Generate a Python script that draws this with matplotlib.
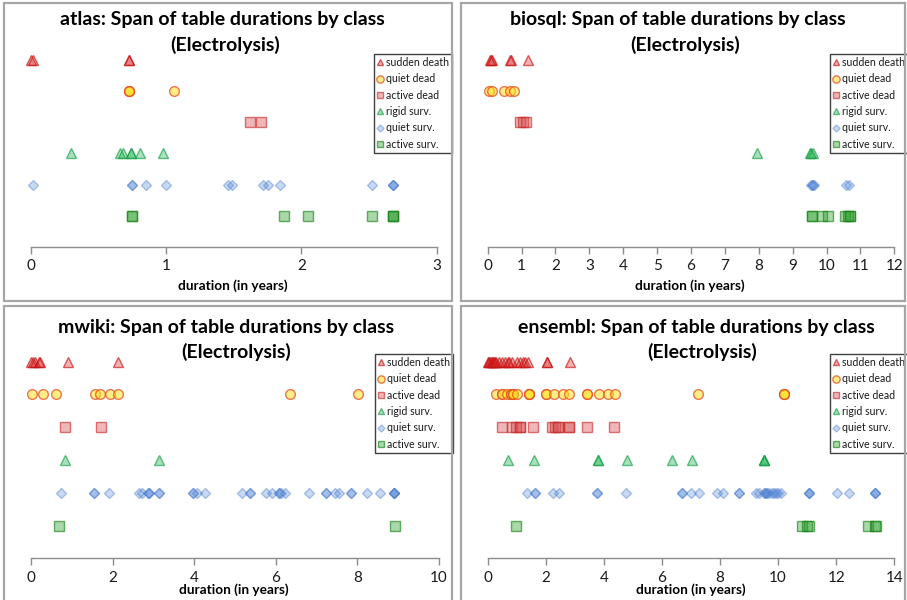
import matplotlib
matplotlib.use("Agg")
import matplotlib.pyplot as plt
from matplotlib.patches import Rectangle
from matplotlib.lines import Line2D

plt.rcParams['font.family'] = ['Lato', 'DejaVu Sans']

# ---------------- data (durations in years) ----------------
class_names = ["sudden death", "quiet dead", "active dead", "rigid surv.", "quiet surv.", "active surv."]

atlas_sudden_death = [0.0, 0.02, 0.73, 0.73]
atlas_quiet_dead = [0.73, 0.73, 0.73, 1.06]
atlas_active_dead = [1.62, 1.70]
atlas_rigid_surv = [0.30, 0.66, 0.685, 0.74, 0.74, 0.81, 0.975]
atlas_quiet_surv = [0.02, 0.75, 0.75, 0.85, 1.0, 1.46, 1.49, 1.72, 1.75, 1.84, 2.52, 2.68, 2.68, 2.68]
atlas_active_surv = [0.75, 0.75, 1.87, 2.05, 2.52, 2.68, 2.68, 2.68]

biosql_sudden_death = [0.08, 0.10, 0.12, 0.65, 0.69, 1.18]
biosql_quiet_dead = [0.04, 0.12, 0.49, 0.67, 0.77]
biosql_active_dead = [0.96, 1.04, 1.12]
biosql_rigid_surv = [7.95, 9.50, 9.55, 9.60]
biosql_quiet_surv = [9.53, 9.57, 9.60, 9.63, 10.58, 10.65]
biosql_active_surv = [9.58, 9.58, 9.86, 10.03, 10.55, 10.62, 10.68, 10.70]

mwiki_sudden_death = [0.0, 0.03, 0.08, 0.18, 0.22, 0.89, 2.14]
mwiki_quiet_dead = [0.02, 0.28, 0.61, 1.56, 1.69, 1.93, 2.13, 6.35, 8.03]
mwiki_active_dead = [0.82, 1.70]
mwiki_rigid_surv = [0.83, 3.13]
mwiki_quiet_surv = [0.72, 1.53, 1.53, 1.91, 2.65, 2.72, 2.86, 2.89, 2.89, 3.13, 3.13, 3.98, 3.98,
                    4.06, 4.26, 5.17, 5.38, 5.38, 5.75, 5.91, 6.08, 6.08, 6.13, 6.22, 6.82, 7.23,
                    7.23, 7.45, 7.55, 7.84, 7.84, 8.24, 8.56, 8.90, 8.90, 8.90, 8.90]
mwiki_active_surv = [0.69, 8.92]

ensembl_sudden_death = [0.0, 0.03, 0.06, 0.10, 0.14, 0.18, 0.22, 0.26, 0.30, 0.40, 0.50, 0.60,
                        0.70, 0.75, 0.85, 1.00, 1.10, 1.20, 1.30, 1.40, 2.05, 2.05, 2.85]
ensembl_quiet_dead = [0.27, 0.48, 0.48, 0.65, 0.80, 0.80, 0.88, 0.88, 1.00, 1.42, 1.42, 1.42,
                      2.02, 2.02, 2.29, 2.58, 2.81, 3.41, 3.41, 3.83, 4.15, 4.38, 7.23,
                      10.19, 10.19, 10.19]
ensembl_active_dead = [0.48, 0.83, 0.97, 1.11, 1.11, 1.55, 2.20, 2.32, 2.43, 2.43, 2.81, 2.81,
                       3.41, 4.36]
ensembl_rigid_surv = [0.69, 1.61, 3.79, 3.79, 4.79, 6.36, 7.02, 9.50, 9.50, 9.52]
ensembl_quiet_surv = [1.34, 1.63, 1.63, 2.24, 2.47, 3.77, 3.77, 4.76, 6.68, 6.68, 7.00, 7.27,
                      7.88, 8.09, 8.66, 8.66, 9.24, 9.35, 9.50, 9.55, 9.58, 9.62, 9.70, 9.78,
                      9.85, 9.92, 10.00, 10.10, 11.05, 11.05, 11.05, 12.03, 12.44, 13.33,
                      13.33, 13.35]
ensembl_active_surv = [0.96, 10.81, 11.00, 11.05, 13.10, 13.33, 13.36]

datasets = ["atlas", "biosql", "mwiki", "ensembl"]
series = {
    "atlas": [atlas_sudden_death, atlas_quiet_dead, atlas_active_dead,
              atlas_rigid_surv, atlas_quiet_surv, atlas_active_surv],
    "biosql": [biosql_sudden_death, biosql_quiet_dead, biosql_active_dead,
               biosql_rigid_surv, biosql_quiet_surv, biosql_active_surv],
    "mwiki": [mwiki_sudden_death, mwiki_quiet_dead, mwiki_active_dead,
              mwiki_rigid_surv, mwiki_quiet_surv, mwiki_active_surv],
    "ensembl": [ensembl_sudden_death, ensembl_quiet_dead, ensembl_active_dead,
                ensembl_rigid_surv, ensembl_quiet_surv, ensembl_active_surv],
}
xmax = {"atlas": 3, "biosql": 12, "mwiki": 10, "ensembl": 14}
xstep = {"atlas": 1, "biosql": 1, "mwiki": 2, "ensembl": 2}
row_level = [6, 5, 4, 3, 2, 1]

# ---------------- styles ----------------
styles = [
    dict(marker="^", ms=6.5, mfc=(0.85, 0.15, 0.15, 0.35), mec=(0.78, 0.08, 0.08, 0.65)),
    dict(marker="o", ms=7.0, mfc=(1.0, 0.88, 0.15, 0.55), mec=(0.90, 0.30, 0.12, 0.75)),
    dict(marker="s", ms=6.5, mfc=(0.85, 0.30, 0.30, 0.40), mec=(0.78, 0.18, 0.18, 0.65)),
    dict(marker="^", ms=6.5, mfc=(0.15, 0.72, 0.35, 0.40), mec=(0.10, 0.62, 0.28, 0.65)),
    dict(marker="D", ms=4.8, mfc=(0.35, 0.55, 0.85, 0.33), mec=(0.28, 0.48, 0.80, 0.42)),
    dict(marker="s", ms=6.5, mfc=(0.18, 0.62, 0.18, 0.40), mec=(0.10, 0.52, 0.10, 0.65)),
]

W, H = 907, 600
fig = plt.figure(figsize=(W / 100, H / 100), dpi=100)

def fx(px):
    return px / W

def fy(py):
    return 1 - py / H

# panel geometry in pixels
panels = {
    "atlas":   dict(box=(4, 3, 452, 301), ax=(30.7, 436.7, 246.7, 31.1), title=(222, 20, 225, 45),
                    xl=(233, 286), leg=(374, 54)),
    "biosql":  dict(box=(461, 3, 905, 301), ax=(487.7, 894.3, 246.7, 31.1), title=(678, 20, 685, 45),
                    xl=(690, 286), leg=(830, 54)),
    "mwiki":   dict(box=(4, 306, 452, 640), ax=(31.3, 438.7, 558.3, 32.8), title=(226, 327, 236, 352),
                    xl=(234, 590), leg=(375, 354)),
    "ensembl": dict(box=(461, 306, 905, 640), ax=(487.7, 894.3, 558.3, 32.8), title=(696, 327, 702, 352),
                    xl=(691, 590), leg=(830, 354)),
}

for name in datasets:
    p = panels[name]
    x0, y0, x1, y1 = p["box"]
    fig.patches.append(Rectangle((fx(x0), fy(y1)), fx(x1 - x0), (y1 - y0) / H,
                                 transform=fig.transFigure, fill=False,
                                 edgecolor="#a6a6a6", linewidth=1.6, zorder=0))
    axl, axr, axb, rowsp = p["ax"]
    axt = axb - 7 * rowsp
    ax = fig.add_axes([fx(axl), fy(axb), fx(axr - axl), (axb - axt) / H])
    ax.patch.set_visible(False)
    handles = []
    for vals, st, lvl, lab in zip(series[name], styles, row_level, class_names):
        ax.plot(vals, [lvl] * len(vals), linestyle="none", marker=st["marker"],
                markersize=st["ms"], markerfacecolor=st["mfc"], markeredgecolor=st["mec"],
                markeredgewidth=1.0, clip_on=False)
        handles.append(Line2D([], [], linestyle="none", marker=st["marker"],
                              markersize=st["ms"] * 0.75, markerfacecolor=st["mfc"],
                              markeredgecolor=st["mec"], markeredgewidth=1.0, label=lab))
    ax.set_xlim(0, xmax[name])
    ax.set_ylim(0, 7)
    ax.set_xticks(range(0, xmax[name] + 1, xstep[name]))
    ax.set_yticks([])
    for s in ["left", "right", "top"]:
        ax.spines[s].set_visible(False)
    ax.spines["bottom"].set_color("#8c8c8c")
    ax.spines["bottom"].set_linewidth(1.0)
    ax.tick_params(axis="x", direction="out", length=5, width=1.0, color="#8c8c8c",
                   labelsize=11, labelcolor="#1a1a1a", pad=4)

    tx1, ty1, tx2, ty2 = p["title"]
    fig.text(fx(tx1), fy(ty1), f"{name}: Span of table durations by class", ha="center",
             va="center", fontsize=14, fontweight="bold", color="#000000")
    fig.text(fx(tx2), fy(ty2), "(Electrolysis)", ha="center", va="center",
             fontsize=14, fontweight="bold", color="#000000")
    xlx, xly = p["xl"]
    fig.text(fx(xlx), fy(xly), "duration (in years)", ha="center", va="center",
             fontsize=9.8, fontweight="bold", color="#000000")

    lx, ly = p["leg"]
    leg = ax.legend(handles=handles, loc="upper left", bbox_to_anchor=(fx(lx), fy(ly)),
                    bbox_transform=fig.transFigure, fontsize=7.6, frameon=True,
                    fancybox=False, edgecolor="#404040", framealpha=1.0,
                    borderpad=0.3, labelspacing=0.5, handlelength=0.55,
                    handletextpad=0.25, borderaxespad=0.0)
    leg.get_frame().set_linewidth(1.0)
    for t in leg.get_texts():
        t.set_color("#1a1a1a")

fig.savefig("out.png", dpi=100)
